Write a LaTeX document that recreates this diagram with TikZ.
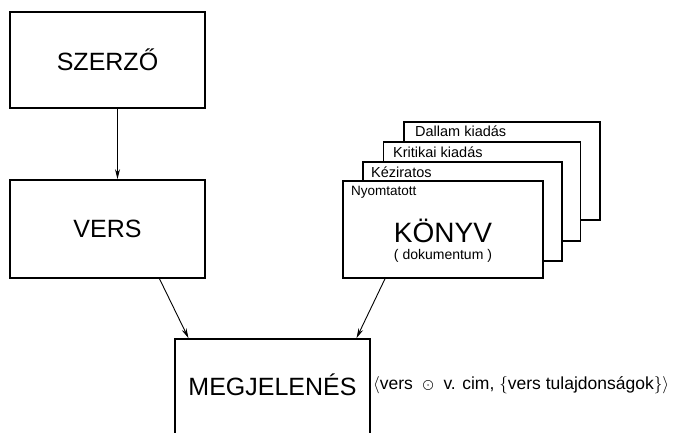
\documentclass[tikz,border=0pt]{standalone}
\usepackage{fontspec}
\setmainfont{Liberation Sans}
\usetikzlibrary{arrows.meta,calc}
\begin{document}
\begin{tikzpicture}[x=1pt,y=-1pt,
  bigbox/.style={draw,line width=1.6pt,fill=white,rectangle,inner sep=0pt},
  big/.style={font=\fontsize{25}{28}\selectfont,inner sep=0pt},
  small/.style={font=\fontsize{14.5}{16}\selectfont,inner sep=0pt,anchor=west},
  arr/.style={line width=0.9pt,-{Stealth[length=10pt,width=5pt]}}]
\useasboundingbox (0,0) rectangle (689,433);
\clip (0,0) rectangle (689,433);
% left column
\node[bigbox,minimum width=195pt,minimum height=96pt,big] (szerzo) at (107.5,60) {SZERZŐ};
\node[bigbox,minimum width=195pt,minimum height=98pt,big] (vers) at (107.5,229) {VERS};
% bottom box (runs off the page)
\node[bigbox,minimum width=195pt,minimum height=120pt] (meg) at (272.5,399) {};
\node[big,font=\fontsize{25}{28}\selectfont] (megt) at (272.5,385) {MEGJELENÉS};
% stack of documents
\node[bigbox,minimum width=196pt,minimum height=98pt] (dallam) at (502,171) {};
\node[bigbox,minimum width=197pt,minimum height=99pt] (kritikai) at (482,191.5) {};
\node[bigbox,minimum width=199pt,minimum height=99pt] (kezirat) at (462.5,211.5) {};
\node[bigbox,minimum width=200pt,minimum height=97pt] (konyv) at (443,229.5) {};
\node[small] (ldallam) at (415,131.5) {Dallam kiadás};
\node[small] (lkrit) at (393,152) {Kritikai kiadás};
\node[small] (lkez) at (371,172) {Kéziratos};
\node[small,font=\fontsize{13.5}{15}\selectfont] (lnyom) at (351,192) {Nyomtatott};
\node[big,font=\fontsize{28}{32}\selectfont] (konyvt) at (443,231) {KÖNYV};
\node[inner sep=0pt,font=\fontsize{14}{16}\selectfont] (dok) at (443,256) {( dokumentum )};
% annotation
\node[inner sep=0pt,font=\fontsize{17.5}{20}\selectfont,anchor=west] (annot) at (373,385)
  {$\big\langle$vers\ \ $\bigodot$\ \ v. cim,\ $\big\{$vers tulajdonságok$\big\}\big\rangle$};
% connectors
\draw[arr] ([xshift=10pt]szerzo.south) -- ([xshift=10pt]vers.north);
\draw[arr] ([xshift=52pt]vers.south) -- ([xshift=-84pt]meg.north);
\draw[arr] ([xshift=-58pt]konyv.south) -- ([xshift=84pt]meg.north);
\end{tikzpicture}
\end{document}
